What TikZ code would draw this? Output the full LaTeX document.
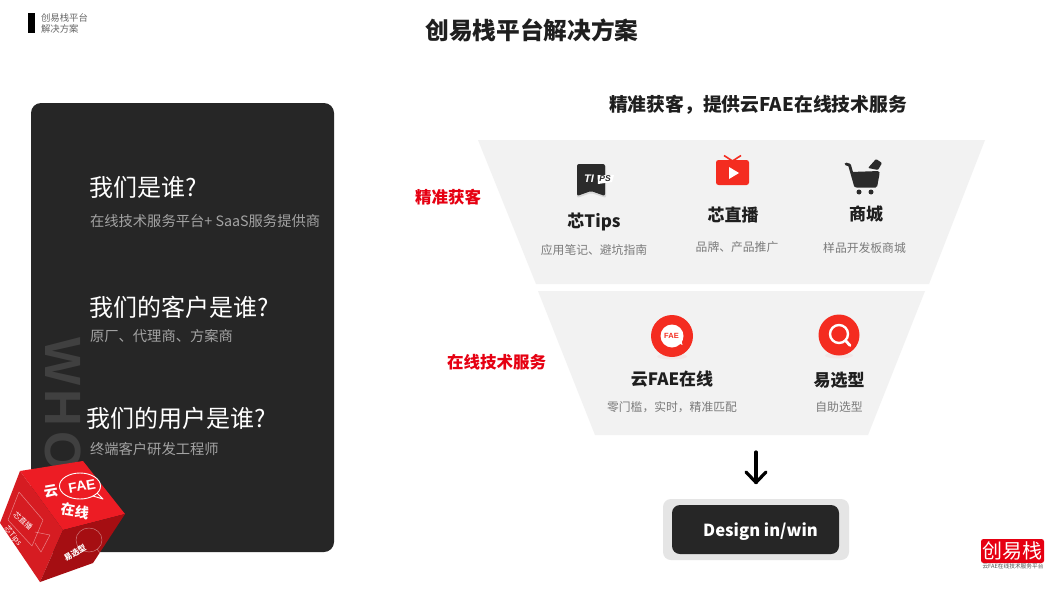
\documentclass[tikz,border=0pt]{standalone}
\usepackage{fontspec}
\setmainfont{Noto Sans CJK SC}
\newfontfamily\arialf{Liberation Sans}
\newfontfamily\whof[LetterSpace=9]{Liberation Sans}
\newcommand\fz[1]{\fontsize{#1}{#1}\selectfont}
\definecolor{panel}{HTML}{262626}
\definecolor{band}{HTML}{F2F2F2}
\definecolor{brand}{HTML}{E60012}
\definecolor{icored}{HTML}{F42C20}
\definecolor{icodark}{HTML}{2B2B2B}
\definecolor{cubetop}{HTML}{ED1C24}
\definecolor{cubeleft}{HTML}{D61C22}
\definecolor{cuberight}{HTML}{A50E12}
\tikzset{
  txt/.style={inner sep=0pt,outer sep=0pt},
  leadhead/.style={txt,anchor=west,text=white,font={\fz{24}}},
  leadsub/.style={txt,anchor=west,text=black!36,font={\fz{14.3}}},
  itemhead/.style={txt,text=black!88,font={\fz{17}\bfseries}},
  itemsub/.style={txt,text=black!52,font={\fz{11.8}}},
  redlabel/.style={txt,text=brand,font={\fz{16.5}\bfseries}},
  band shape/.style={fill=band,draw=none},
  cubeline/.style={draw=white,draw opacity=.45,line width=.5pt,line join=round},
  cubetxt/.style={txt,text=white,font={\fz{14}\bfseries}},
  halo/.style={fill=icored,fill opacity=.05,draw=none},
}
\begin{document}
\begin{tikzpicture}[x=1pt,y=-1pt]
\useasboundingbox (0,0) rectangle (1051,602);
\fill[white] (0,0) rectangle (1051,602);
% header
\fill[black] (28,13) rectangle (35,33);
\node[txt,anchor=west,text=black!60,font={\fz{9.4}}] (hdA) at (41,18) {创易栈平台};
\node[txt,anchor=west,text=black!60,font={\fz{9.4}}] (hdB) at (41,29) {解决方案};
\node[txt,text=black!88,font={\fz{23.7}\bfseries}] (title) at (532,30) {创易栈平台解决方案};
% left panel
\fill[panel,rounded corners=10pt] (31,103) rectangle (334,552);
\node[txt,anchor=west,rotate=-90,text=black!75,font={\whof\fz{51}\bfseries}] (who) at (63,337) {WHO};
\node[leadhead] (qA) at (89.5,187) {我们是谁?};
\node[leadsub] (aA) at (90,221) {在线技术服务平台+ SaaS服务提供商};
\node[leadhead] (qB) at (89.5,307) {我们的客户是谁?};
\node[leadsub] (aB) at (90,336) {原厂、代理商、方案商};
\node[leadhead] (qC) at (86.5,418) {我们的用户是谁?};
\node[leadsub] (aC) at (90,449) {终端客户研发工程师};
% cube
\fill[cubetop] (20,471) -- (83,461) -- (125,514) -- (63,530) -- cycle;
\fill[cubeleft] (20,471) -- (63,530) -- (40,582) -- (0,523) -- cycle;
\fill[cuberight] (63,530) -- (125,514) -- (93,563) -- (40,582) -- cycle;
\draw[white,line width=.9pt] (80,486) ellipse [x radius=20.5,y radius=13];
\draw[white,line width=.9pt,line join=round] (93,496) -- (103,499) -- (97,493);
\node[txt,text=white,rotate=10,font={\arialf\fz{14}\bfseries}] (cubeFAE) at (82,486) {FAE};
\node[cubetxt,rotate=10] (cubeYun) at (51,492) {云};
\node[cubetxt,rotate=-10] (cubeZai) at (75,511) {在线};
\draw[cubeline] (19,492) -- (43,520) -- (32,546) -- (8,520) -- cycle;
\draw[cubeline] (35,532) -- (50,535) -- (41,552) -- (35,543);
\node[txt,text=white,rotate=-42,font={\fz{7.5}}] (cubeLive) at (23,521) {芯直播};
\node[txt,text=white,rotate=-50,font={\fz{7.5}}] (cubeTips) at (13,536) {芯Tips};
\draw[cubeline] (89,540) ellipse [x radius=13,y radius=12];
\draw[cubeline] (97,549) -- (100,553);
\node[txt,text=white,rotate=30,font={\fz{8}\bfseries}] (cubePick) at (75,553) {易选型};
% funnel
\node[txt,text=black!88,font={\fz{18.8}\bfseries}] (sub) at (758,105) {精准获客，提供云FAE在线技术服务};
\fill[band shape] (478,140) -- (985,140) -- (929,284) -- (536,284) -- cycle;
\fill[band shape] (538,291) -- (925,291) -- (868,435) -- (595,435) -- cycle;
\node[redlabel] (lbA) at (448,197) {精准获客};
\node[redlabel] (lbB) at (496.5,362) {在线技术服务};
% Tips icon
\fill[black!25,fill opacity=.5,rounded corners=2pt] (577,165) -- (606,165) -- (606,198) -- (591,193) -- (577,198) -- cycle;
\fill[icodark,rounded corners=2pt] (577,164) -- (605,164) -- (605,196) -- (591,191) -- (577,196) -- cycle;
\node[txt,text=white,font={\arialf\fz{11}\bfseries\itshape}] (tipsTI) at (589,179) {TI};
\fill[white] (597.5,175) -- (614,175) -- (612,182) -- (598,184) -- cycle;
\node[txt,text=icodark,font={\arialf\fz{8.5}\bfseries\itshape}] (tipsPS) at (605,179) {PS};
% TV icon
\draw[icored,line width=1.6pt] (724,155.500) -- (732.500,161) -- (741,155.500);
\fill[icored,rounded corners=2.500pt] (716,160) rectangle (749,185);
\fill[white] (729,167) -- (739,173) -- (729,179) -- cycle;
% Cart icon
\draw[icodark,line width=2.8pt,line cap=round,line join=round] (846,164) -- (849.500,165) -- (855.500,186);
\fill[icodark,rounded corners=1.500pt] (851,172) -- (879.500,171) -- (879.500,174) -- (877,187.500) -- (855,187.500) -- cycle;
\fill[icodark,rounded corners=1pt] (868,168) -- (876,159) -- (882,163) -- (878,170) -- cycle;
\fill[icodark] (859,192) circle (2.500);
\fill[icodark] (871,192) circle (2.500);
\node[itemhead] (itA) at (594,222) {芯Tips};
\node[itemsub] (itAs) at (594,250) {应用笔记、避坑指南};
\node[itemhead] (itB) at (733,215) {芯直播};
\node[itemsub] (itBs) at (737,247) {品牌、产品推广};
\node[itemhead] (itC) at (866,214) {商城};
\node[itemsub] (itCs) at (864.500,248) {样品开发板商城};
% FAE icon
\fill[halo] (672,356.500) ellipse [x radius=15,y radius=3];
\fill[icored] (672,336) circle (21);
\fill[white] (672,336) circle (11.500);
\fill[white] (678,343) -- (682.500,345) -- (681,339) -- cycle;
\node[txt,text=icored,font={\arialf\fz{7.500}\bfseries}] (faeIcon) at (671.500,336) {FAE};
% search icon
\fill[halo] (839,355.500) ellipse [x radius=14,y radius=3];
\fill[icored] (839,335) circle (20.500);
\draw[white,line width=2.400pt] (839,334) circle (9);
\draw[white,line width=2.800pt,line cap=round] (845.500,340.500) -- (850,345.500);
\node[itemhead] (itD) at (672,379) {云FAE在线};
\node[itemsub] (itDs) at (672,407) {零门槛，实时，精准匹配};
\node[itemhead] (itE) at (839,380) {易选型};
\node[itemsub] (itEs) at (839,407) {自助选型};
% result
\coordinate (arrowTop) at (756,452);
\coordinate (arrowEnd) at (756,482.5);
\draw[black,line width=3.200pt,line cap=round,line join=round] (arrowTop) -- (arrowEnd);
\draw[black,line width=3.200pt,line cap=round,line join=round] (746,472) -- (arrowEnd) -- (766,472);
\fill[black!10,rounded corners=8pt] (663,499) rectangle (849,560);
\fill[panel,rounded corners=8pt] (672,505) rectangle (839,554);
\node[txt,text=white,font={\fz{16.6}\bfseries}] (dw) at (760.5,532) {Design in/win};
% logo
\fill[brand,rounded corners=2.500pt] (981,539) rectangle (1044,563);
\node[txt,text=white,font={\fz{20}}] (logo) at (1012.500,550.500) {创易栈};
\node[txt,text=black!70,font={\fz{5.700}}] (logoSub) at (1013,566.500) {云FAE在线技术服务平台};
\end{tikzpicture}
\end{document}
